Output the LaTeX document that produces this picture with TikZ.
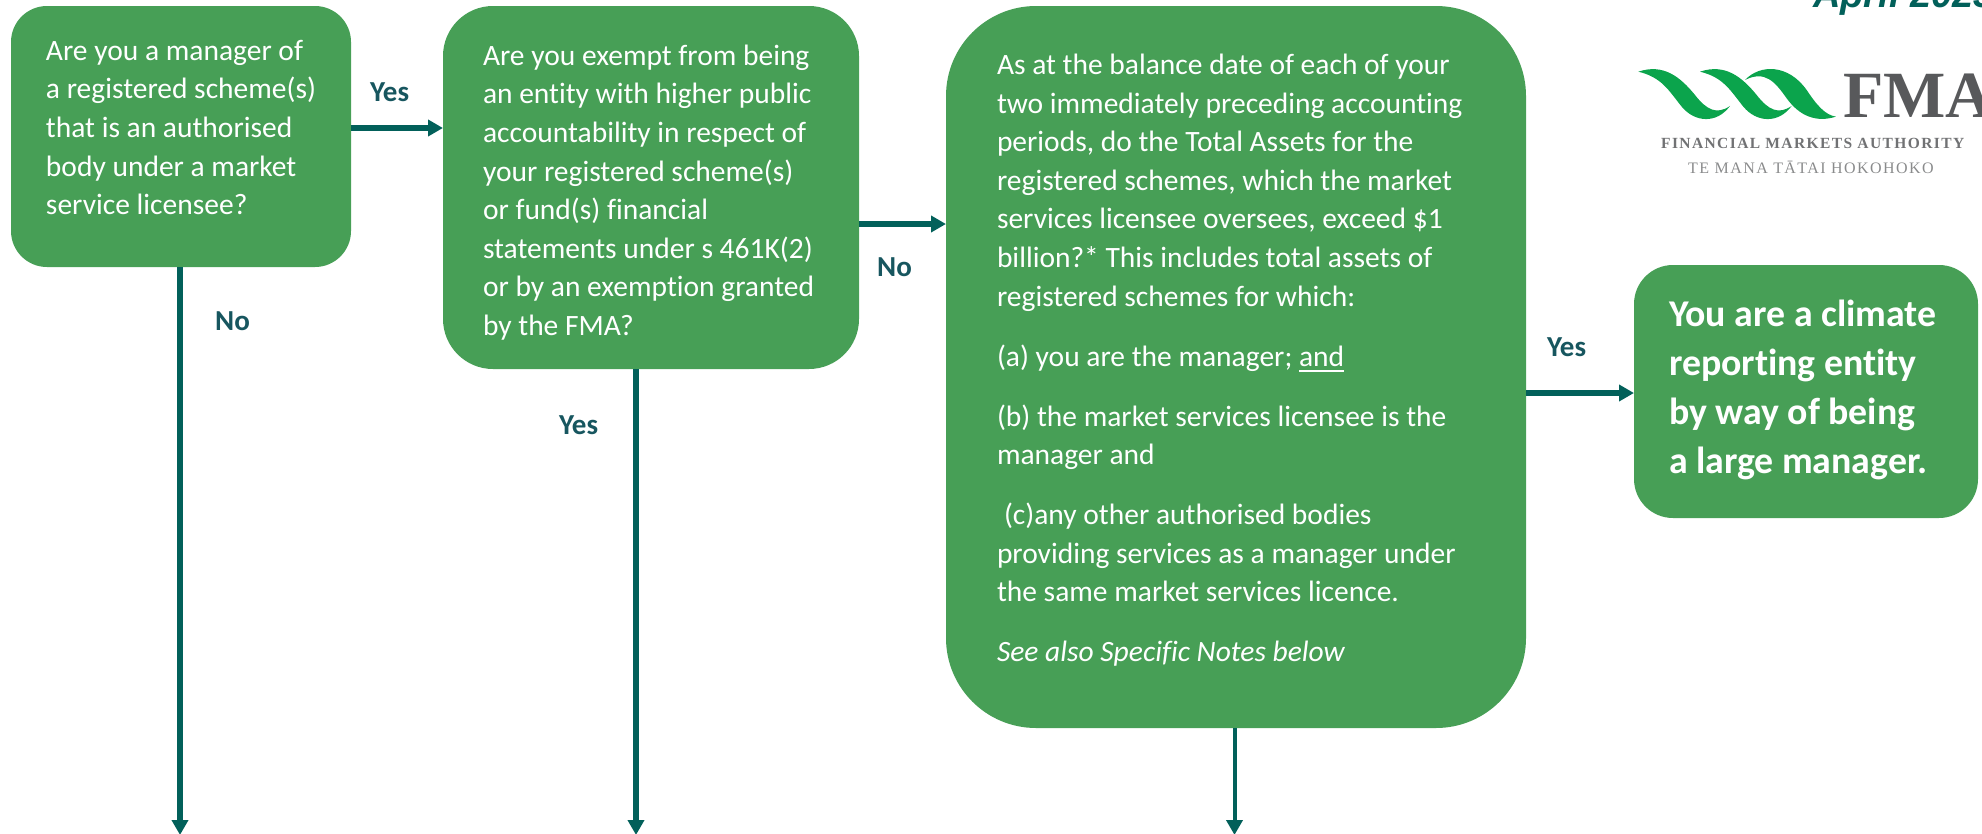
\documentclass[tikz,border=0pt]{standalone}
\usepackage{fontspec}
\setmainfont{Carlito}[Ligatures=NoCommon]
\newfontfamily\arialfont{Liberation Sans}
\newfontfamily\logoserif{Liberation Serif}
\newfontfamily\logospaced[LetterSpace=9]{Liberation Serif}
\usetikzlibrary{arrows.meta}
\definecolor{boxgreen}{HTML}{479F56}
\definecolor{arrowteal}{HTML}{02605A}
\definecolor{labelteal}{HTML}{17565F}
\definecolor{ribbon}{HTML}{0BA44C}
\definecolor{logogrey}{HTML}{58595B}
% width, height, first baseline offset, left pad, text
\newcommand{\qtext}[5]{\parbox[c][#2pt][t]{#1pt}{\leftskip=#4pt\rightskip=0pt plus 1fil\parfillskip=0pt plus 1fil\hfuzz=200pt\rule{0pt}{#3pt}#5}}
\newcommand{\thickul}[1]{\setbox0=\hbox{#1}\rlap{\rule[-5.5pt]{\wd0}{1.8pt}}\box0}
\tikzset{
  qbox/.style={fill=boxgreen,text=white,inner sep=0pt,outer sep=0pt,anchor=north west},
  flow/.style={draw=arrowteal,line width=5.2pt,-{Triangle[length=15pt,width=16pt]}},
  lab/.style={anchor=base west,inner sep=0pt,text=labelteal,font=\fontsize{29}{34}\selectfont\bfseries},
  logotext/.style={anchor=base west,inner sep=0pt},
}
\begin{document}
\begin{tikzpicture}[x=1pt,y=-1pt]
\useasboundingbox (0,0) rectangle (1982,833);
\clip (0,0) rectangle (1982,833);
% boxes
\node[qbox,rounded corners=36pt,font=\fontsize{29.5}{38.6}\selectfont] (b1) at (11,6)
  {\qtext{340}{261}{54.2}{35}{Are you a manager of\\a registered scheme(s)\\that is an authorised\\body under a market\\service licensee?}};
\node[qbox,rounded corners=50pt,font=\fontsize{29.5}{38.6}\selectfont] (b2) at (443,6)
  {\qtext{416}{363}{59.2}{40}{Are you exempt from being\\an entity with higher public\\accountability in respect of\\your registered scheme(s)\\or fund(s) financial\\statements under s 461K(2)\\or by an exemption granted\\by the FMA?}};
\node[qbox,rounded corners=90pt,font=\fontsize{29.5}{38.6}\selectfont] (b3) at (946,6)
  {\qtext{580}{722}{68.5}{51}{As at the balance date of each of your\\two immediately preceding accounting\\periods, do the Total Assets for the\\registered schemes, which the market\\services licensee oversees, exceed \$1\\billion?* This includes total assets of\\registered schemes for which:\\[21.4pt](a) you are the manager; \thickul{and}\\[21.4pt](b) the market services licensee is the\\manager and\\[21.4pt]\hspace*{7pt}(c)any other authorised bodies\\providing services as a manager under\\the same market services licence.\\[21.4pt]\textit{See also Specific Notes below}}};
\node[qbox,rounded corners=39pt,font=\fontsize{37.8}{49}\selectfont\bfseries] (b4) at (1634,265)
  {\qtext{344}{253}{61.2}{35}{You are a climate\\reporting entity\\by way of being\\a large manager.}};
% connector routing points
\coordinate (r12) at (400,128);
\coordinate (r23) at (900,224);
\coordinate (r34) at (1580,393);
\coordinate (d1) at (180,835);
\coordinate (d2) at (636,835);
\coordinate (d3) at (1234.5,835);
\draw[flow] (r12 -| b1.east) -- (r12 -| b2.west);
\draw[flow] (r23 -| b2.east) -- (r23 -| b3.west);
\draw[flow] (r34 -| b3.east) -- (r34 -| b4.west);
\draw[flow] (b1.south -| d1) -- (d1);
\draw[flow] (b2.south -| d2) -- (d2);
\draw[flow,line width=4pt] (b3.south -| d3) -- (d3);
% labels
\node[lab] (l1) at (370,101.5) {Yes};
\node[lab] (l2) at (215,330) {No};
\node[lab] (l3) at (559,434) {Yes};
\node[lab] (l4) at (877,276) {No};
\node[lab] (l5) at (1547,356) {Yes};
% date
\node[logotext,text=arrowteal,font=\arialfont\fontsize{38}{40}\selectfont\bfseries\itshape] (date) at (1813,7) {April 2023};
% logo
\begin{scope}[shift={(1600,0)},x=0.3333pt,y=-0.3333pt]
\fill[ribbon] (115,215) .. controls (190,190) and (240,230) .. (285,285) .. controls (320,330) and (350,345) .. (390,318) .. controls (350,372) and (285,368) .. (245,320) .. controls (205,270) and (185,232) .. (115,215) -- cycle;
\fill[ribbon] (300,215) .. controls (375,190) and (425,230) .. (470,285) .. controls (505,330) and (535,345) .. (575,318) .. controls (535,372) and (470,368) .. (430,320) .. controls (390,270) and (370,232) .. (300,215) -- cycle;
\fill[ribbon] (435,240) .. controls (480,192) and (565,192) .. (620,270) .. controls (650,315) and (675,345) .. (708,350) .. controls (650,368) and (600,350) .. (560,295) .. controls (525,245) and (495,210) .. (435,240) -- cycle;
\end{scope}
\node[logotext,text=logogrey,font=\logoserif\fontsize{66}{70}\selectfont\bfseries] (fma) at (1843,117) {FMA};
\node[logotext,text=logogrey!85,font=\logospaced\fontsize{15.5}{18}\selectfont\bfseries] (fma1) at (1661,148) {FINANCIAL MARKETS AUTHORITY};
\node[logotext,text=logogrey!70,font=\logospaced\fontsize{16}{18}\selectfont] (fma2) at (1688,173) {TE MANA TĀTAI HOKOHOKO};
\end{tikzpicture}
\end{document}
